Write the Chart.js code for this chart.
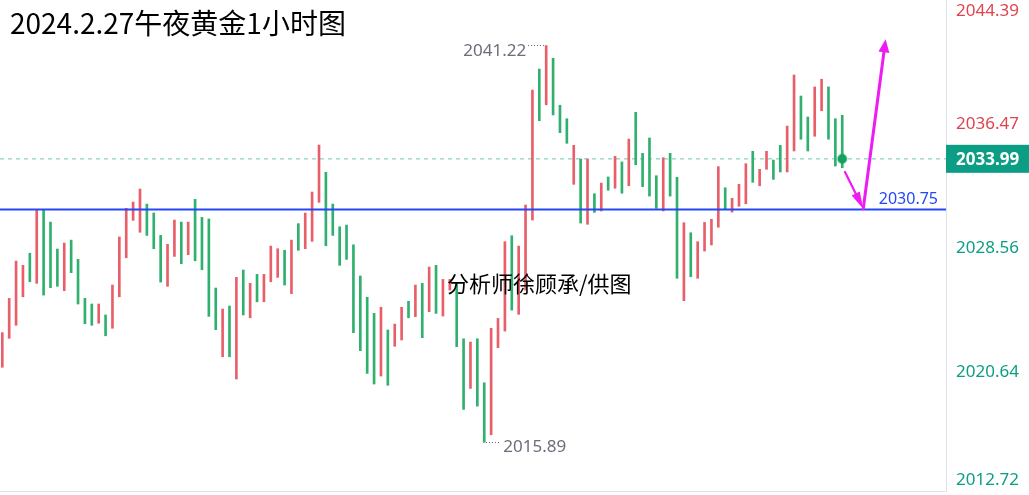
<!DOCTYPE html>
<html>
<head>
<meta charset="utf-8">
<script src="https://cdn.jsdelivr.net/npm/chart.js@4.4.1/dist/chart.umd.min.js"></script>
<style>
  html, body { margin: 0; padding: 0; background: #fff; }
</style>
</head>
<body>
<canvas id="goldChart" width="1029" height="495"></canvas>
<script>
// hourly bars, oldest first (high / low)
const highs = [
  2022.89, 2025.08, 2027.46, 2027.19, 2027.96, 2030.72, 2030.72, 2029.95, 2028.23, 2028.61,
  2028.80, 2027.57, 2025.08, 2024.72, 2024.72, 2024.02, 2025.93, 2029.00, 2030.83, 2031.23,
  2032.06, 2031.10, 2030.53, 2029.10, 2028.53, 2030.08, 2029.95, 2029.95, 2031.40, 2030.25,
  2030.15, 2025.74, 2024.40, 2024.59, 2026.42, 2026.89, 2026.04, 2026.61, 2026.61, 2028.42,
  2028.25, 2028.15, 2028.80, 2029.85, 2030.53, 2031.87, 2034.87, 2033.13, 2031.10, 2029.65,
  2029.76, 2028.50, 2026.51, 2025.15, 2024.12, 2024.51, 2023.06, 2023.44, 2024.51, 2024.89,
  2025.93, 2026.04, 2027.08, 2027.19, 2026.29, 2026.29, 2026.06, 2022.50, 2022.29, 2022.50,
  2019.69, 2023.17, 2023.80, 2028.70, 2029.08, 2028.42, 2031.04, 2038.38, 2039.72, 2041.22,
  2040.41, 2037.41, 2036.55, 2034.85, 2033.98, 2033.98, 2031.76, 2032.44, 2032.83, 2034.15,
  2033.79, 2035.25, 2036.96, 2034.34, 2035.32, 2032.91, 2034.06, 2034.34, 2032.81, 2029.91,
  2029.27, 2028.70, 2029.93, 2030.13, 2033.49, 2032.14, 2031.47, 2032.36, 2033.68, 2034.47,
  2033.32, 2034.47, 2033.91, 2034.85, 2036.08, 2039.34, 2038.00, 2036.66, 2038.58, 2039.07,
  2038.58, 2036.55, 2036.77
];
const lows = [
  2020.68, 2022.53, 2023.36, 2025.18, 2026.14, 2026.04, 2025.29, 2025.76, 2025.85, 2025.57,
  2026.72, 2024.72, 2023.46, 2023.36, 2023.49, 2022.69, 2023.17, 2025.18, 2027.67, 2030.06,
  2029.30, 2029.10, 2028.25, 2026.12, 2025.85, 2027.76, 2027.29, 2027.87, 2027.48, 2026.91,
  2023.93, 2023.08, 2021.35, 2021.35, 2019.93, 2024.02, 2023.84, 2024.86, 2024.86, 2026.14,
  2026.42, 2025.93, 2025.38, 2028.15, 2028.25, 2028.72, 2031.21, 2028.44, 2029.10, 2027.19,
  2027.57, 2022.89, 2021.74, 2020.29, 2019.61, 2020.12, 2019.53, 2022.02, 2022.42, 2023.84,
  2023.91, 2022.57, 2024.23, 2024.12, 2023.95, 2025.61, 2022.00, 2017.99, 2019.33, 2018.20,
  2015.89, 2016.37, 2021.93, 2022.99, 2024.33, 2024.06, 2025.61, 2030.08, 2036.42, 2037.44,
  2036.79, 2035.66, 2034.98, 2032.36, 2029.89, 2029.81, 2030.57, 2030.66, 2031.98, 2032.11,
  2031.79, 2032.27, 2033.61, 2032.21, 2031.61, 2030.83, 2030.66, 2031.61, 2026.36, 2024.93,
  2026.46, 2026.36, 2028.10, 2028.49, 2029.62, 2030.77, 2030.59, 2030.96, 2031.12, 2032.49,
  2032.27, 2033.32, 2032.68, 2033.15, 2033.15, 2034.49, 2035.24, 2034.49, 2035.43, 2037.06,
  2035.24, 2033.53, 2033.42
];
// r = red bar, g = green bar
const tones = (
  "rrrrgrgggr" + "ggggrgrrrr" + "rgggrrgrgg" + "ggrgrgrgrr" + "rgrgrrrggg" +
  "gggggrgrrg" + "rgrgrrggrg" + "grrrgrrrgr" + "gggrgrgrgr" + "grggggrggr" +
  "grrrrgrrrg" + "rrggrrggrr" + "ggg"
).split("");

const axisTicks = [2044.39, 2036.47, 2028.56, 2020.64, 2012.72];
const lastPrice = 2033.99;
const supportLevel = 2030.75;
const peak = { index: 79, value: 2041.22 };
const bottom = { index: 70, value: 2015.89 };
// forecast arrows (bar index, price)
const arrowDown = [[122.4, 2033.15], [125.05, 2030.8]];
const arrowUp = [[125.05, 2030.8], [128.3, 2041.62]];

const RED = "#e85f6a";
const GREEN = "#2fb06e";
const TEAL = "#0c9e84";
const BLUE = "#2448f5";
const MAGENTA = "#ee1cf0";

const xMin = -0.334, xMax = 137.07;

function arrow(ctx, x1, y1, x2, y2, w, headLen, headW) {
  const ang = Math.atan2(y2 - y1, x2 - x1);
  const bx = x2 - Math.cos(ang) * headLen;
  const by = y2 - Math.sin(ang) * headLen;
  ctx.strokeStyle = MAGENTA;
  ctx.fillStyle = MAGENTA;
  ctx.lineWidth = w;
  ctx.beginPath();
  ctx.moveTo(x1, y1);
  ctx.lineTo(bx, by);
  ctx.stroke();
  ctx.beginPath();
  ctx.moveTo(x2, y2);
  ctx.lineTo(bx + Math.sin(ang) * headW, by - Math.cos(ang) * headW);
  ctx.lineTo(bx - Math.sin(ang) * headW, by + Math.cos(ang) * headW);
  ctx.closePath();
  ctx.fill();
}

const overlay = {
  id: "overlay",
  afterDatasetsDraw(chart) {
    const { ctx, chartArea: a, scales: { x, y } } = chart;
    ctx.save();

    // plot bottom border
    ctx.strokeStyle = "#e0e3eb";
    ctx.lineWidth = 1;
    ctx.beginPath();
    ctx.moveTo(a.left, a.bottom + 0.5);
    ctx.lineTo(a.right, a.bottom + 0.5);
    ctx.stroke();

    // high / low markers
    ctx.font = "17px 'Noto Sans'";
    ctx.fillStyle = "#6b6e7a";
    ctx.textBaseline = "middle";
    let px = x.getPixelForValue(peak.index), py = y.getPixelForValue(peak.value);
    for (let d = px - 18; d < px - 2; d += 3) ctx.fillRect(Math.round(d), Math.round(py) - 1, 1, 1);
    ctx.textAlign = "right";
    ctx.fillText(peak.value.toFixed(2), px - 20, py + 6);
    px = x.getPixelForValue(bottom.index); py = y.getPixelForValue(bottom.value);
    for (let d = px + 2; d < px + 17; d += 3) ctx.fillRect(Math.round(d), Math.round(py), 1, 1);
    ctx.textAlign = "left";
    ctx.fillText(bottom.value.toFixed(2), px + 19, py + 5);

    // support label
    ctx.font = "16px 'Noto Sans'";
    ctx.fillStyle = BLUE;
    ctx.textAlign = "right";
    ctx.fillText(supportLevel.toFixed(2), a.right - 8, y.getPixelForValue(supportLevel) - 10);

    // arrows
    ctx.lineCap = "round";
    arrow(ctx,
      x.getPixelForValue(arrowDown[0][0]), y.getPixelForValue(arrowDown[0][1]),
      x.getPixelForValue(arrowDown[1][0]), y.getPixelForValue(arrowDown[1][1]), 2.2, 17, 4.5);
    arrow(ctx,
      x.getPixelForValue(arrowUp[0][0]), y.getPixelForValue(arrowUp[0][1]),
      x.getPixelForValue(arrowUp[1][0]), y.getPixelForValue(arrowUp[1][1]), 3, 13, 5.5);

    // texts
    ctx.fillStyle = "#000";
    ctx.textAlign = "left";
    ctx.textBaseline = "alphabetic";
    ctx.font = "28px 'Noto Sans CJK SC'";
    ctx.fillText("2024.2.27午夜黄金1小时图", 10, 34);
    ctx.font = "22px 'Noto Sans CJK SC'";
    ctx.textBaseline = "middle";
    ctx.fillText("分析师徐顾承/供图", 447, 284);

    // right price axis
    ctx.font = "17px 'Noto Sans'";
    ctx.textAlign = "left";
    axisTicks.forEach(v => {
      let ty = y.getPixelForValue(v) + 4;
      ty = Math.max(11, Math.min(480, ty));
      ctx.fillStyle = v > lastPrice ? "#e0444f" : TEAL;
      ctx.fillText(v.toFixed(2), a.right + 10, ty);
    });
    const ly = y.getPixelForValue(lastPrice);
    ctx.fillStyle = TEAL;
    ctx.fillRect(a.right, ly - 14, 1029 - a.right, 28);
    ctx.fillStyle = "#fff";
    ctx.font = "bold 17px 'Noto Sans'";
    ctx.fillText(lastPrice.toFixed(2), a.right + 10, ly + 1);

    ctx.restore();
  }
};

new Chart(document.getElementById("goldChart"), {
  type: "bar",
  data: {
    datasets: [
      {
        type: "line",
        data: [{ x: xMin, y: supportLevel }, { x: xMax, y: supportLevel }],
        borderColor: BLUE,
        borderWidth: 2,
        pointRadius: 0,
        order: 0
      },
      {
        type: "line",
        data: [{ x: highs.length - 1, y: lastPrice }],
        showLine: false,
        pointRadius: 4.5,
        pointBackgroundColor: "#12a15e",
        pointBorderColor: "rgba(18,161,94,0.35)",
        pointBorderWidth: 2,
        order: 0
      },
      {
        data: highs.map((h, i) => ({ x: i, y: [lows[i], h] })),
        backgroundColor: tones.map(t => t === "r" ? RED : GREEN),
        barThickness: 2,
        borderWidth: 0,
        order: 1
      },
      {
        type: "line",
        data: [{ x: xMin, y: lastPrice }, { x: xMax, y: lastPrice }],
        borderColor: "rgba(12,158,132,0.4)",
        borderWidth: 1.5,
        borderDash: [4, 4],
        pointRadius: 0,
        order: 2
      }
    ]
  },
  options: {
    responsive: false,
    animation: false,
    devicePixelRatio: 1,
    layout: { autoPadding: false, padding: { left: 0, top: 0, right: 0, bottom: 4 } },
    plugins: { legend: { display: false }, tooltip: { enabled: false } },
    scales: {
      x: {
        type: "linear",
        min: xMin,
        max: xMax,
        offset: false,
        display: false
      },
      y: {
        position: "right",
        min: 2012.78,
        max: 2044.13,
        grid: { display: false },
        border: { display: true, color: "#e0e3eb" },
        ticks: { display: false },
        afterFit(s) { s.width = 83; }
      }
    }
  },
  plugins: [overlay]
});
</script>
</body>
</html>
